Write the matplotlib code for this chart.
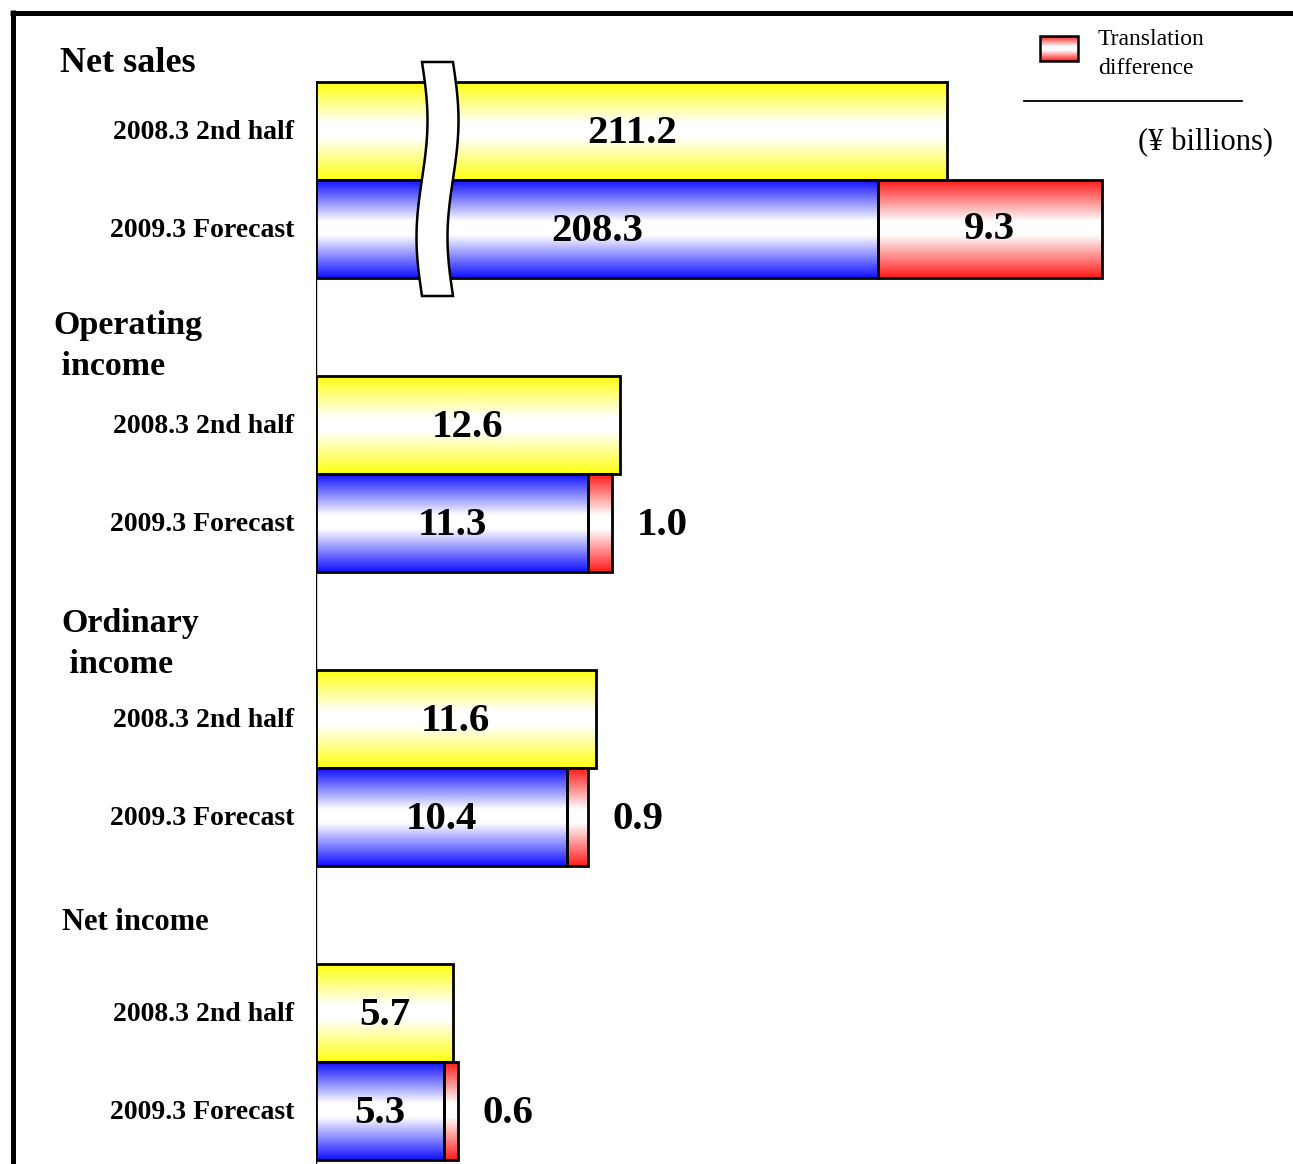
import numpy as np
import matplotlib
matplotlib.use("Agg")
import matplotlib.pyplot as plt
from matplotlib.colors import LinearSegmentedColormap
from matplotlib.patches import Rectangle, Polygon
from matplotlib.lines import Line2D

# data (¥ billions)
groups = ["Net sales", "Operating\n income", "Ordinary\n income", "Net income"]
periods = ["2008.3 2nd half", "2009.3 Forecast"]
prev_half = [211.2, 12.6, 11.6, 5.7]
forecast = [208.3, 11.3, 10.4, 5.3]
translation_diff = [9.3, 1.0, 0.9, 0.6]
break_offset = [185.0, 0.0, 0.0, 0.0]   # net sales axis is broken

plt.rcParams["font.family"] = ["Liberation Serif", "DejaVu Serif"]

W, H = 1293, 1164
PX_X = 24.1   # pixels per ¥ billion
PX_Y = 98.0   # pixels per bar height
X0 = 316

fig = plt.figure(figsize=(W / 100, H / 100), dpi=100)
ax = fig.add_axes([X0 / W, 0, (W - X0) / W, 1])


def px(x, y):
    return (x - X0) / PX_X, y / PX_Y


def grad_cmap(c):
    return LinearSegmentedColormap.from_list(
        "g", [(0, c), (0.42, "white"), (0.56, "white"), (1, c)])


YELLOW = grad_cmap("#ffff10")
BLUE = grad_cmap("#1010ff")
RED = grad_cmap("#ff1a1a")
grad = np.linspace(0, 1, 256).reshape(-1, 1)


def gbar(left, width, yc, cmap):
    ax.imshow(grad, cmap=cmap, extent=[left, left + width, yc + 0.5, yc - 0.5],
              aspect="auto", interpolation="bicubic", zorder=2)
    ax.add_patch(Rectangle((left, yc - 0.5), width, 1, fill=False,
                           ec="black", lw=2, zorder=3))


title_dy = [0.65, 0.53, 0.57, 0.41]
title_x = [60, 53, 61, 62]
title_size = [26, 24.5, 24.5, 22]
VAL = dict(fontsize=29.5, fontweight="bold", zorder=4, va="center")

for i in range(4):
    y1 = 3 * i + 1.337
    y2 = y1 + 1
    a = prev_half[i] - break_offset[i]
    b = forecast[i] - break_offset[i]
    d = translation_diff[i]
    gbar(0, a, y1, YELLOW)
    gbar(0, b, y2, BLUE)
    gbar(b, d, y2, RED)

    ax.text(a / 2, y1 + 0.03, f"{prev_half[i]:.1f}", ha="center", **VAL)
    ax.text(b / 2, y2 + 0.03, f"{forecast[i]:.1f}", ha="center", **VAL)
    if d * PX_X > 80:
        ax.text(b + d / 2, y2, f"{d:.1f}", ha="center", **VAL)
    else:
        ax.text(b + d + 1.0, y2 + 0.03, f"{d:.1f}", ha="left", **VAL)

    for y, lab in zip([y1, y2], periods):
        ax.text((294 - X0) / PX_X, y + 0.02, lab, ha="right", va="center",
                fontsize=20, fontweight="bold", clip_on=False)

    tx, _ = px(title_x[i], 0)
    ax.text(tx, 3 * i + title_dy[i], groups[i], ha="left", va="center",
            fontsize=title_size[i], fontweight="bold", linespacing=1.4,
            clip_on=False)

# axis line
ax.plot([0, 0], [2.837, H / PX_Y], color="black", lw=1, zorder=1)

# axis break symbol
yy = np.linspace(62, 296, 60)
xl = 422 + 5.5 * np.sin(np.pi * (yy - 62) / 117)
xr = xl + 31
pts = [px(x, y) for x, y in zip(xl, yy)] + [px(x, y) for x, y in zip(xr[::-1], yy[::-1])]
ax.add_patch(Polygon(pts, closed=True, fc="white", ec="black", lw=1.8, zorder=6))

# legend
lx0, ly0 = px(1040, 36)
lx1, ly1 = px(1078, 61)
ax.imshow(grad, cmap=RED, extent=[lx0, lx1, ly1, ly0], aspect="auto",
          interpolation="bicubic", zorder=2)
ax.add_patch(Rectangle((lx0, ly0), lx1 - lx0, ly1 - ly0, fill=False,
                       ec="black", lw=1.8, zorder=3))
tx, ty = px(1098, 54)
ax.text(tx, ty, "Translation\ndifference", ha="left", va="center",
        fontsize=17, linespacing=1.55)
xa, ya = px(1024, 101)
xb, _ = px(1242, 101)
ax.plot([xa, xb], [ya, ya], color="black", lw=1.3, clip_on=False)
tx, ty = px(1138, 143)
ax.text(tx, ty, "(¥ billions)", ha="left", va="center", fontsize=22)

ax.set_xlim(0, (W - X0) / PX_X)
ax.set_ylim(H / PX_Y, 0)
ax.axis("off")

# outer frame (top and left edges)
fig.add_artist(Line2D([10 / W, 1], [1 - 12.5 / H, 1 - 12.5 / H],
                      transform=fig.transFigure, color="black", lw=3.6,
                      solid_capstyle="butt"))
fig.add_artist(Line2D([12.5 / W, 12.5 / W], [1 - 10 / H, 0],
                      transform=fig.transFigure, color="black", lw=3.6,
                      solid_capstyle="butt"))

fig.savefig("out.png", dpi=100)
